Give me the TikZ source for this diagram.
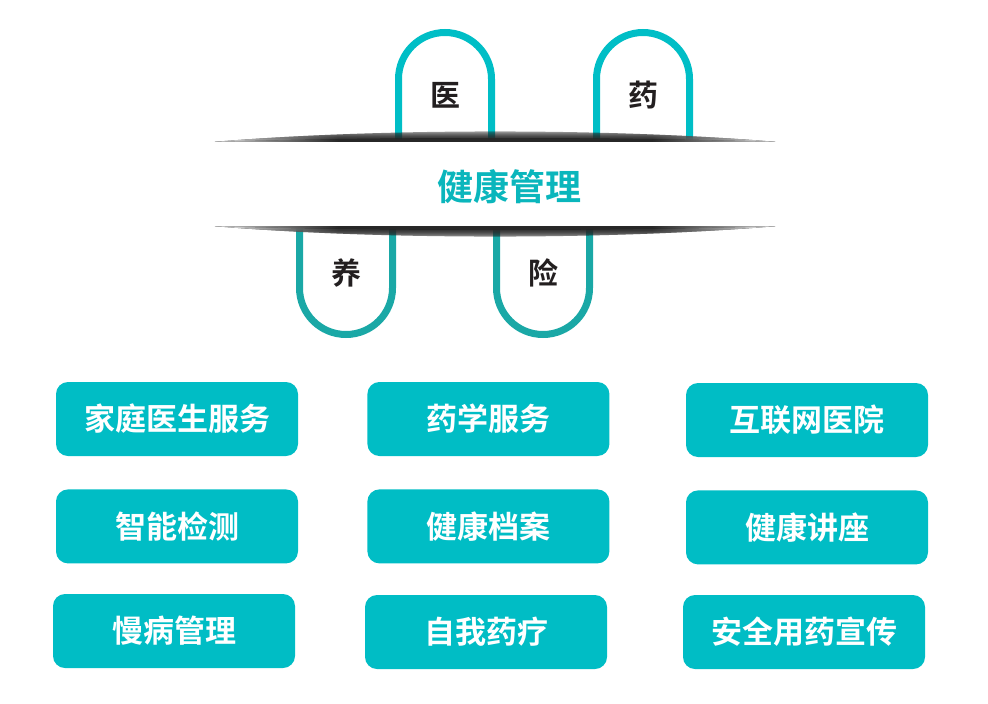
\documentclass[tikz,border=0pt]{standalone}
\usepackage{fontspec}
\newfontfamily\cjk{Noto Sans CJK SC}[BoldFont={Noto Sans CJK SC Bold}]
\usetikzlibrary{positioning,fadings}
\definecolor{boxteal}{RGB}{0,189,197}
\definecolor{pilltop}{RGB}{0,190,198}
\definecolor{pillbot}{RGB}{26,168,166}
\definecolor{titleteal}{RGB}{10,182,188}
\definecolor{inkgray}{RGB}{35,31,32}
\pgfdeclarehorizontalshading{bandshade}{100bp}{color(0bp)=(white); color(25bp)=(white);
  color(36bp)=(black!80); color(64bp)=(black!80); color(75bp)=(white); color(100bp)=(white)}

\begin{document}
\begin{tikzpicture}[x=1pt, y=-1pt, node distance=33pt and 69pt,
    every node/.style = {font=\cjk\bfseries\fontsize{30}{36}\selectfont},
    service/.style = {shape=rectangle, rounded corners=12pt, fill=boxteal,
                      text=white, minimum width=242pt, minimum height=74pt, inner sep=0pt,
                      font=\cjk\bfseries\fontsize{31}{36}\selectfont},
    pillword/.style = {text=inkgray, inner sep=0pt},
    pilltube/.style = {line width=7pt},
    shadowlens/.style = {shading=bandshade}]
  \useasboundingbox (0,0) rectangle (988,704);

  % pills
  \node[pillword] (yi)   at (445,95)  {医};
  \node[pillword] (yao)  at (643,95)  {药};
  \node[pillword] (yang) at (346,273) {养};
  \node[pillword] (xian) at (543,273) {险};
  \draw[pilltube, pilltop] (398.5,142) -- (398.5,79) arc (180:360:46.5) -- (491.5,142);
  \draw[pilltube, pilltop] (596.5,142) -- (596.5,79) arc (180:360:46.5) -- (689.5,142);
  \draw[pilltube, pillbot] (299.5,226) -- (299.5,288) arc (180:0:46.5) -- (392.5,226);
  \draw[pilltube, pillbot] (496.5,226) -- (496.5,288) arc (180:0:46.5) -- (589.5,226);

  % band with shadows
  \node[fill=white, minimum width=560pt, minimum height=84pt, inner sep=0pt] (band) at (495,184) {};
  \fill[shadowlens, path fading=north]
    (band.north west) .. controls (380,128) and (610,128) .. (band.north east) -- cycle;
  \fill[shadowlens, opacity=0.7]
    (band.north west) .. controls (380,137) and (610,137) .. (band.north east) -- cycle;
  \fill[shadowlens, path fading=south]
    (band.south west) .. controls (380,240) and (610,240) .. (band.south east) -- cycle;
  \fill[shadowlens, opacity=0.7]
    (band.south west) .. controls (380,231) and (610,231) .. (band.south east) -- cycle;
  \node[text=titleteal, font=\cjk\bfseries\fontsize{36}{40}\selectfont] (title) at (509,187) {健康管理};

  % services
  \node[service] (family)   at (177,419) {家庭医生服务};
  \node[service, right=of family] (pharmacy) {药学服务};
  \node[service] (online)   at (807,420) {互联网医院};
  \node[service, below=of family]   (smart)   {智能检测};
  \node[service, below=of pharmacy] (record)  {健康档案};
  \node[service, below=of online]   (lecture) {健康讲座};
  \node[service] (chronic)  at (174,631) {慢病管理};
  \node[service] (selfmed)  at (486,632) {自我药疗};
  \node[service] (safety)   at (804,632) {安全用药宣传};
\end{tikzpicture}
\end{document}
